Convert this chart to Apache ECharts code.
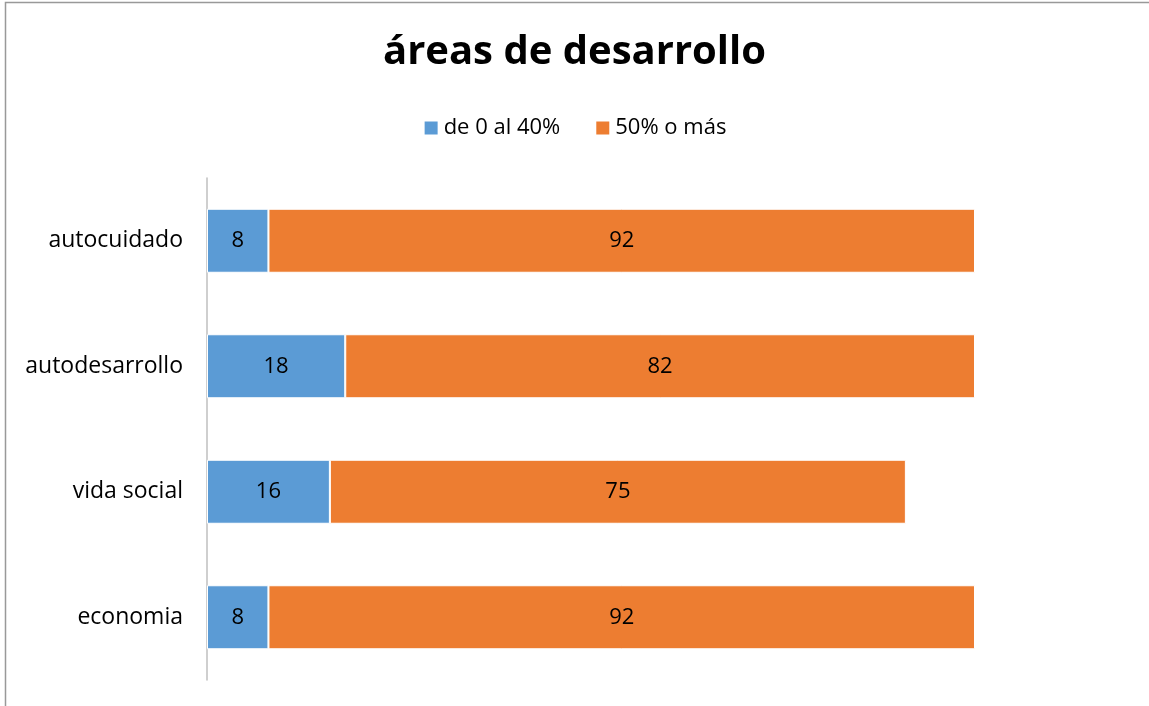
<!DOCTYPE html>
<html>
<head>
<meta charset="utf-8">
<script src="https://cdn.jsdelivr.net/npm/echarts@6/dist/echarts.min.js"></script>
<style>
  html, body { margin: 0; padding: 0; background: #fff; }
  #chart { width: 1149px; height: 706px; }
</style>
</head>
<body>
<div id="chart"></div>
<script>
const categories = ['autocuidado', 'autodesarrollo', 'vida social', 'economia'];
const low = [8, 18, 16, 8];
const high = [92, 82, 75, 92];
const seriesNames = ['de 0 al 40%', '50% o más'];

const font = '"Open Sans", "Noto Sans", sans-serif';
const chart = echarts.init(document.getElementById('chart'), null, { renderer: 'canvas' });

const barLabel = {
  show: true,
  position: 'inside',
  color: '#000',
  fontSize: 22,
  fontFamily: font
};

chart.setOption({
  animation: false,
  backgroundColor: '#fff',
  title: {
    text: 'áreas de desarrollo',
    left: 'center',
    top: 28,
    textStyle: { fontSize: 40, fontWeight: 'bold', color: '#000', fontFamily: font }
  },
  legend: {
    data: seriesNames,
    top: 112,
    left: 'center',
    itemWidth: 15,
    itemHeight: 15,
    itemGap: 34,
    icon: 'rect',
    textStyle: { fontSize: 22, color: '#000', fontFamily: font }
  },
  graphic: [{
    type: 'rect',
    shape: { x: 5.5, y: 2.5, width: 1200, height: 800 },
    style: { fill: 'none', stroke: '#999', lineWidth: 1.5 },
    silent: true
  }],
  grid: { left: 207, right: 174, top: 178, bottom: 26, containLabel: false },
  xAxis: {
    type: 'value',
    min: 0,
    max: 100,
    show: false
  },
  yAxis: {
    type: 'category',
    data: categories,
    inverse: true,
    axisLine: { show: true, lineStyle: { color: '#bfbfbf', width: 1.5 } },
    axisTick: { show: false },
    axisLabel: { color: '#000', fontSize: 23, fontFamily: font, margin: 24 }
  },
  series: [
    {
      name: seriesNames[0],
      type: 'bar',
      stack: 'total',
      data: low,
      barWidth: 64,
      itemStyle: { color: '#5B9BD5', borderColor: '#fff', borderWidth: 1 },
      label: barLabel
    },
    {
      name: seriesNames[1],
      type: 'bar',
      stack: 'total',
      data: high,
      barWidth: 64,
      itemStyle: { color: '#ED7D31', borderColor: '#fff', borderWidth: 1 },
      label: barLabel
    }
  ]
});
</script>
</body>
</html>
